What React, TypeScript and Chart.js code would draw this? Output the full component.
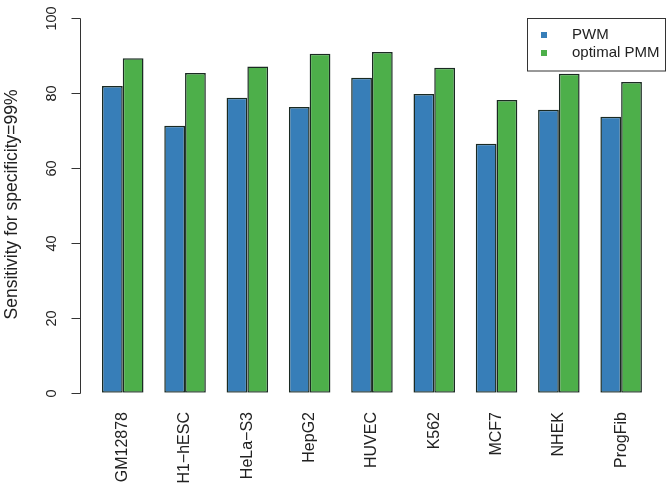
import React, { useEffect, useRef } from "react";
import { Chart, registerables } from "chart.js";

Chart.register(...registerables);

const categories = ["GM12878", "H1\u2212hESC", "HeLa\u2212S3", "HepG2", "HUVEC", "K562", "MCF7", "NHEK", "ProgFib"];
const pwmValues = [81.9, 71.3, 78.8, 76.3, 84.1, 79.8, 66.5, 75.6, 73.7];
const optimalPmmValues = [89.3, 85.4, 87.1, 90.5, 91.0, 86.8, 78.2, 85.2, 83.0];
const yTicks = [0, 20, 40, 60, 80, 100];
const seriesNames = ["PWM", "optimal PMM"];
const seriesColors = ["#377EB8", "#4DAF4A"];
const yTitle = "Sensitivity for specificity=99%";

const FONT = '"Liberation Sans", Arial, Helvetica, sans-serif';

const axesPlugin = {
  id: "rAxes",
  afterDraw(chart: any) {
    const ctx = chart.ctx;
    const y = chart.scales.y;
    const x = chart.scales.x;
    ctx.save();
    ctx.strokeStyle = "#333";
    ctx.fillStyle = "#222";
    ctx.lineWidth = 1;
    const axisX = 80.5;
    // y axis line
    ctx.beginPath();
    ctx.moveTo(axisX, Math.round(y.getPixelForValue(yTicks[0])) + 0.5);
    ctx.lineTo(axisX, Math.round(y.getPixelForValue(yTicks[yTicks.length - 1])) + 0.5);
    ctx.stroke();
    ctx.font = `14.5px ${FONT}`;
    yTicks.forEach((t) => {
      const py = Math.round(y.getPixelForValue(t)) + 0.5;
      ctx.beginPath();
      ctx.moveTo(axisX, py);
      ctx.lineTo(axisX - 9, py);
      ctx.stroke();
      ctx.save();
      ctx.translate(51.5, py);
      ctx.rotate(-Math.PI / 2);
      ctx.textAlign = "center";
      ctx.textBaseline = "middle";
      ctx.fillText(String(t), 0, 0);
      ctx.restore();
    });
    // y title
    ctx.font = `17.5px ${FONT}`;
    ctx.save();
    ctx.translate(12, (y.top + y.bottom) / 2 - 1);
    ctx.rotate(-Math.PI / 2);
    ctx.textAlign = "center";
    ctx.textBaseline = "middle";
    ctx.fillText(yTitle, 0, 0);
    ctx.restore();
    // x labels
    ctx.font = `16px ${FONT}`;
    categories.forEach((c, i) => {
      const px = x.getPixelForValue(i);
      ctx.save();
      ctx.translate(px, 412);
      ctx.rotate(-Math.PI / 2);
      ctx.textAlign = "right";
      ctx.textBaseline = "middle";
      ctx.fillText(c, 0, 0);
      ctx.restore();
    });
    // legend
    ctx.font = `15px ${FONT}`;
    ctx.strokeStyle = "#333";
    ctx.strokeRect(527.5, 18.5, 138, 52.5);
    chart.data.datasets.forEach((ds: any, i: number) => {
      const cy = 35 + i * 18;
      ctx.fillStyle = ds.backgroundColor;
      ctx.fillRect(541, cy - 3, 6, 6);
      ctx.fillStyle = "#222";
      ctx.textAlign = "left";
      ctx.textBaseline = "middle";
      ctx.fillText(ds.label, 572, cy);
    });
    ctx.restore();
  },
};

export default function App() {
  const ref = useRef<HTMLCanvasElement | null>(null);
  useEffect(() => {
    document.body.style.margin = "0";
    if (!ref.current) return;
    const common = {
      borderColor: "#1a2a22",
      borderWidth: 1.5,
      borderSkipped: false as const,
      categoryPercentage: 2 / 3,
      barPercentage: 1,
    };
    const chart = new Chart(ref.current, {
      type: "bar",
      data: {
        labels: categories,
        datasets: [
          { label: seriesNames[0], data: pwmValues, backgroundColor: seriesColors[0], ...common },
          { label: seriesNames[1], data: optimalPmmValues, backgroundColor: seriesColors[1], ...common },
        ],
      },
      options: {
        responsive: false,
        animation: false,
        layout: { padding: { left: 91.6, right: 19.7, top: 18.3, bottom: 98.3 } },
        plugins: { legend: { display: false }, tooltip: { enabled: false } },
        scales: {
          x: { display: false, offset: true, grid: { display: false } },
          y: { display: false, min: 0, max: 100 },
        },
      },
      plugins: [axesPlugin],
    });
    return () => chart.destroy();
  }, []);
  return (
    <div style={{ position: "fixed", left: 0, top: 0, width: 672, height: 491, background: "#fff" }}>
      <canvas ref={ref} width={672} height={491} />
    </div>
  );
}
